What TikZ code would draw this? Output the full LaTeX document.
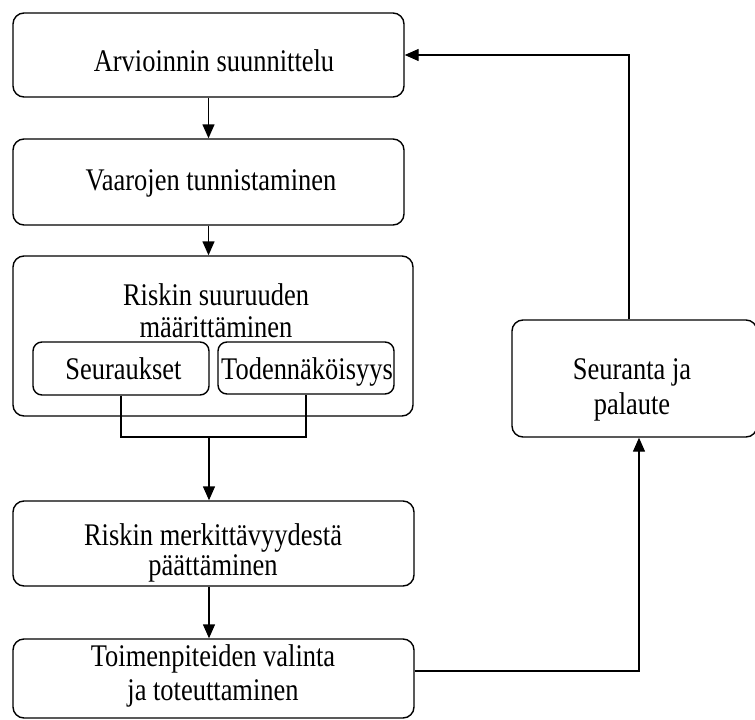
\documentclass[tikz,border=0pt]{standalone}
\usepackage{fontspec}
\setmainfont{Liberation Serif}[FakeStretch=0.84]
\usetikzlibrary{arrows.meta}
\begin{document}
\begin{tikzpicture}[x=1pt,y=-1pt,
  box/.style={draw, line width=1.4pt, rounded corners=11pt, inner sep=0pt, rectangle},
  subbox/.style={box, rounded corners=9pt},
  lbl/.style={inner sep=0pt, align=center},
  fs/.style={font=\fontsize{31.5}{#1}\selectfont},
  conn/.style={line width=1.4pt},
  arr/.style={conn, -{Triangle[length=14pt,width=12pt]}}]
\useasboundingbox (0,0) rectangle (755,720);
% boxes
\node[box, minimum width=391pt, minimum height=84pt] (b1) at (208.5,55) {};
\node[box, minimum width=391pt, minimum height=86pt] (b2) at (208.5,182) {};
\node[box, minimum width=400pt, minimum height=160pt] (b3) at (213,336) {};
\node[subbox, minimum width=176pt, minimum height=53pt] (s1) at (121,368.5) {};
\node[subbox, minimum width=176pt, minimum height=52pt] (s2) at (306,368) {};
\node[box, minimum width=401pt, minimum height=85pt] (b4) at (213.5,543.5) {};
\node[box, minimum width=401pt, minimum height=79pt] (b5) at (213.5,678.5) {};
\node[box, minimum width=245pt, minimum height=117pt] (sr) at (634.5,378.5) {};
% texts
\node[lbl, fs=32, anchor=base] (t1) at (214,71) {Arvioinnin suunnittelu};
\node[lbl, fs=32, anchor=base] (t2) at (211,190) {Vaarojen tunnistaminen};
\node[lbl, fs=32, anchor=north] (t3) at (216,283.5) {Riskin suuruuden\\määrittäminen};
\node[lbl, fs=32, anchor=base] (ts1) at (123.5,379) {Seuraukset};
\node[lbl, fs=32, anchor=base] (ts2) at (307,379) {Todennäköisyys};
\node[lbl, fs=30, anchor=north] (t4) at (213,523.5) {Riskin merkittävyydestä\\päättäminen};
\node[lbl, fs=34] (t5) at (213,676) {Toimenpiteiden valinta\\ja toteuttaminen};
\node[lbl, fs=35, anchor=north] (tsr) at (632,358) {Seuranta ja\\palaute};
% connectors
\coordinate (j) at (209,437);
\coordinate (p) at (639,671);
\coordinate (q) at (629,55);
\draw[arr] (b1.south) -- (b2.north);
\draw[arr] (b2.south) -- (b2.south |- b3.north);
\draw[conn] (s1.south) -- (s1.south |- j) -- (s2.south |- j) -- (s2.south);
\draw[arr] (j) -- (j |- b4.north);
\draw[arr] (b4.south -| j) -- (j |- b5.north);
\draw[arr] (b5.east |- p) -- (p) -- (p |- sr.south);
\draw[arr] (sr.north -| q) -- (q) -- (b1.east);
\end{tikzpicture}
\end{document}
